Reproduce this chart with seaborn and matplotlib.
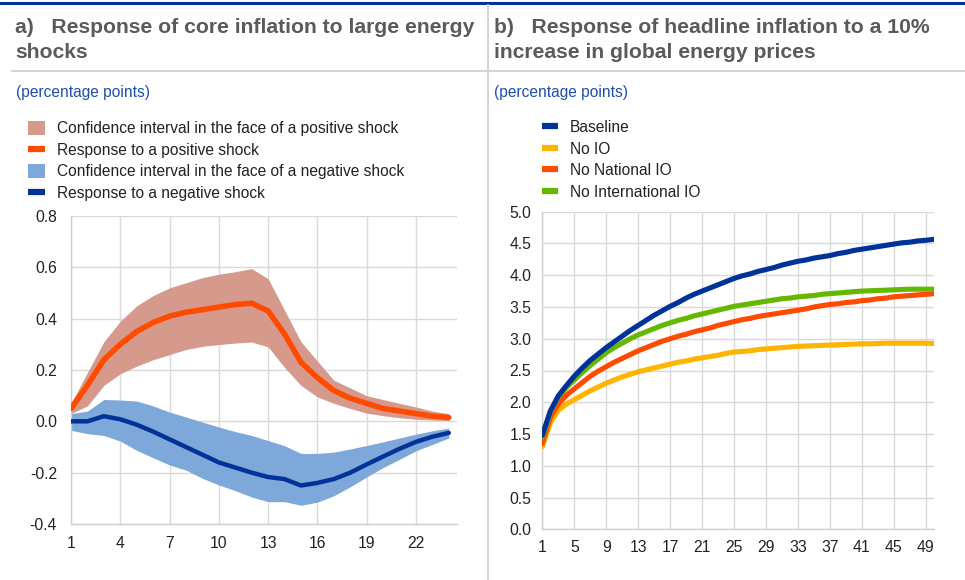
import numpy as np
import pandas as pd
import matplotlib
matplotlib.use("Agg")
import matplotlib.pyplot as plt
import seaborn as sns
from matplotlib.patches import Patch
from matplotlib.lines import Line2D

# ---------------- data ----------------
# Panel a: response of core inflation (horizon 1..24)
horizon_a = list(range(1, 25))
pos_response = [0.05, 0.14, 0.24, 0.30, 0.35, 0.385, 0.41, 0.425, 0.435, 0.445, 0.455, 0.46,
                0.43, 0.34, 0.23, 0.17, 0.12, 0.09, 0.07, 0.05, 0.04, 0.03, 0.02, 0.015]
pos_upper = [0.07, 0.19, 0.31, 0.39, 0.45, 0.49, 0.52, 0.54, 0.56, 0.573, 0.583, 0.595,
             0.556, 0.433, 0.31, 0.235, 0.16, 0.13, 0.10, 0.085, 0.07, 0.056, 0.04, 0.03]
pos_lower = [0.03, 0.06, 0.14, 0.185, 0.215, 0.24, 0.26, 0.28, 0.292, 0.299, 0.305, 0.309,
             0.29, 0.21, 0.14, 0.095, 0.07, 0.05, 0.032, 0.022, 0.014, 0.008, 0.005, 0.003]
neg_response = [0.0, 0.0, 0.02, 0.008, -0.013, -0.04, -0.07, -0.10, -0.13, -0.16, -0.18, -0.20,
                -0.217, -0.225, -0.25, -0.24, -0.225, -0.20, -0.168, -0.137, -0.107, -0.08, -0.06, -0.045]
neg_upper = [0.03, 0.04, 0.085, 0.083, 0.079, 0.06, 0.036, 0.017, -0.003, -0.022, -0.04, -0.055,
             -0.075, -0.095, -0.125, -0.125, -0.12, -0.108, -0.094, -0.08, -0.065, -0.05, -0.037, -0.026]
neg_lower = [-0.035, -0.048, -0.055, -0.077, -0.113, -0.142, -0.17, -0.19, -0.222, -0.248, -0.27, -0.295,
             -0.313, -0.313, -0.327, -0.315, -0.29, -0.255, -0.217, -0.18, -0.148, -0.115, -0.09, -0.065]
labels_a = ["Confidence interval in the face of a positive shock",
            "Response to a positive shock",
            "Confidence interval in the face of a negative shock",
            "Response to a negative shock"]
xticks_a = [1, 4, 7, 10, 13, 16, 19, 22]
yticks_a = [-0.4, -0.2, 0.0, 0.2, 0.4, 0.6, 0.8]
yticklabels_a = ["-0.4", "-0.2", "0.0", "0.2", "0.4", "0.6", "0.8"]

# Panel b: response of headline inflation (horizon 1..50)
horizon_b = list(range(1, 51))
baseline = [1.48, 1.86, 2.10, 2.26, 2.41, 2.54, 2.66, 2.76, 2.86, 2.95,
            3.04, 3.13, 3.21, 3.29, 3.37, 3.44, 3.51, 3.57, 3.64, 3.70,
            3.75, 3.80, 3.85, 3.90, 3.95, 3.99, 4.02, 4.06, 4.09, 4.12,
            4.16, 4.19, 4.22, 4.24, 4.27, 4.29, 4.31, 4.34, 4.36, 4.39,
            4.41, 4.43, 4.45, 4.47, 4.49, 4.51, 4.52, 4.54, 4.55, 4.565]
no_io = [1.30, 1.68, 1.87, 1.97, 2.04, 2.11, 2.18, 2.24, 2.30, 2.35,
         2.40, 2.44, 2.48, 2.51, 2.54, 2.57, 2.60, 2.63, 2.65, 2.68,
         2.70, 2.72, 2.74, 2.77, 2.79, 2.80, 2.81, 2.83, 2.84, 2.85,
         2.86, 2.87, 2.88, 2.885, 2.89, 2.895, 2.90, 2.905, 2.91, 2.915,
         2.92, 2.92, 2.925, 2.93, 2.93, 2.93, 2.93, 2.93, 2.93, 2.925]
no_national_io = [1.35, 1.76, 1.97, 2.11, 2.21, 2.31, 2.41, 2.49, 2.56, 2.63,
                  2.69, 2.75, 2.81, 2.86, 2.91, 2.96, 3.00, 3.04, 3.07, 3.11,
                  3.14, 3.17, 3.21, 3.24, 3.27, 3.30, 3.32, 3.35, 3.37, 3.39,
                  3.41, 3.43, 3.45, 3.47, 3.50, 3.52, 3.54, 3.55, 3.57, 3.58,
                  3.60, 3.61, 3.63, 3.64, 3.66, 3.67, 3.68, 3.69, 3.70, 3.71]
no_international_io = [1.45, 1.84, 2.08, 2.23, 2.35, 2.47, 2.58, 2.68, 2.78, 2.86,
                       2.93, 3.00, 3.06, 3.11, 3.16, 3.21, 3.25, 3.29, 3.32, 3.36,
                       3.39, 3.42, 3.45, 3.48, 3.51, 3.53, 3.55, 3.57, 3.59, 3.61,
                       3.63, 3.64, 3.66, 3.67, 3.68, 3.70, 3.71, 3.72, 3.73, 3.74,
                       3.75, 3.755, 3.76, 3.765, 3.77, 3.775, 3.78, 3.78, 3.78, 3.78]
labels_b = ["Baseline", "No IO", "No National IO", "No International IO"]
xticks_b = [1, 5, 9, 13, 17, 21, 25, 29, 33, 37, 41, 45, 49]
yticks_b = [0.0, 0.5, 1.0, 1.5, 2.0, 2.5, 3.0, 3.5, 4.0, 4.5, 5.0]

title_a_lines = ["a)   Response of core inflation to large energy", "shocks"]
title_b_lines = ["b)   Response of headline inflation to a 10%", "increase in global energy prices"]
unit_text = "(percentage points)"

# ---------------- style ----------------
sns.set_theme(style="white")
plt.rcParams["font.family"] = ["Liberation Sans", "DejaVu Sans"]

C_BLUE = "#003299"
C_ORANGE = "#FF4B00"
C_YELLOW = "#FFB400"
C_GREEN = "#65B800"
C_PINK = "#D69A8D"
C_LBLUE = "#7DA8D9"
C_GRID = "#D9D9D9"
C_TITLE = "#5A5A5A"
C_TEXT = "#222222"

W, H = 965, 580
fig = plt.figure(figsize=(W / 100, H / 100), dpi=100)

def fx(px):
    return px / W

def fy(py):
    return 1 - py / H

# frame decorations
fig.add_artist(Line2D([0, 1], [fy(3.3), fy(3.3)], color=C_BLUE, lw=2.2, transform=fig.transFigure))
fig.add_artist(Line2D([fx(12), 1], [fy(70.7), fy(70.7)], color="#D4D4D4", lw=1.5, transform=fig.transFigure))
fig.add_artist(Line2D([fx(488), fx(488)], [fy(5), 0], color="#D4D4D4", lw=1.5, transform=fig.transFigure))

for x0, lines in [(15, title_a_lines), (494, title_b_lines)]:
    for yb, line in zip([32.7, 58.3], lines):
        fig.text(fx(x0), fy(yb), line, ha="left", va="baseline", fontsize=15.2,
                 fontweight="bold", color=C_TITLE)
fig.text(fx(16), fy(93), unit_text, ha="left", va="center", fontsize=11.2, color="#1F4FA8")
fig.text(fx(494), fy(93), unit_text, ha="left", va="center", fontsize=11.2, color="#1F4FA8")

# ---------------- panel a ----------------
axA = fig.add_axes([fx(71), fy(524), fx(457) - fx(71), fy(216) - fy(524)])
df_a = pd.DataFrame({"h": horizon_a, "pos": pos_response, "neg": neg_response,
                     "pu": pos_upper, "pl": pos_lower, "nu": neg_upper, "nl": neg_lower})
axA.fill_between(df_a["h"], df_a["pl"], df_a["pu"], color=C_PINK, lw=0, zorder=2)
axA.fill_between(df_a["h"], df_a["nl"], df_a["nu"], color=C_LBLUE, lw=0, zorder=2)
sns.lineplot(data=df_a, x="h", y="pos", ax=axA, color=C_ORANGE, lw=4.0, zorder=3)
sns.lineplot(data=df_a, x="h", y="neg", ax=axA, color=C_BLUE, lw=3.2, zorder=3)
axA.set_xlim(1, 24.5)
axA.set_ylim(-0.4, 0.8)
axA.set_xticks(xticks_a)
axA.set_yticks(yticks_a)
axA.set_yticklabels(yticklabels_a)

# ---------------- panel b ----------------
axB = fig.add_axes([fx(542.3), fy(529.3), fx(934.3) - fx(542.3), fy(211.7) - fy(529.3)])
df_b = pd.DataFrame({"h": horizon_b * 4,
                     "v": baseline + no_io + no_national_io + no_international_io,
                     "s": [labels_b[0]] * 50 + [labels_b[1]] * 50 + [labels_b[2]] * 50 + [labels_b[3]] * 50})
pal_b = {labels_b[0]: C_BLUE, labels_b[1]: C_YELLOW, labels_b[2]: C_ORANGE, labels_b[3]: C_GREEN}
sns.lineplot(data=df_b, x="h", y="v", hue="s", palette=pal_b, ax=axB, lw=3.7,
             legend=False, zorder=3, hue_order=[labels_b[1], labels_b[2], labels_b[3], labels_b[0]])
axB.set_xlim(1, 50.06)
axB.set_ylim(0, 5)
axB.set_xticks(xticks_b)
axB.set_yticks(yticks_b)
axB.set_yticklabels([f"{v:.1f}" for v in yticks_b])

for ax, xpad, ypad in [(axA, 9, 10), (axB, 8, 8)]:
    ax.set_xlabel("")
    ax.set_ylabel("")
    ax.grid(True, color=C_GRID, lw=1.0, zorder=0)
    ax.set_axisbelow(True)
    for s in ["top", "right"]:
        ax.spines[s].set_visible(False)
    for s in ["left", "bottom"]:
        ax.spines[s].set_color("#CFCFCF")
        ax.spines[s].set_linewidth(1.0)
    ax.tick_params(axis="x", length=0, pad=xpad, labelsize=11.3, labelcolor=C_TEXT)
    ax.tick_params(axis="y", length=0, pad=ypad, labelsize=11.3, labelcolor=C_TEXT)
    ax.set_facecolor("white")

# ---------------- legends ----------------
handles_a = [Patch(facecolor=C_PINK, edgecolor="none"),
             Line2D([0], [0], color=C_ORANGE, lw=4.5, solid_capstyle="butt"),
             Patch(facecolor=C_LBLUE, edgecolor="none"),
             Line2D([0], [0], color=C_BLUE, lw=4.5, solid_capstyle="butt")]
fig.legend(handles_a, labels_a, loc="upper left", bbox_to_anchor=(fx(28), fy(121)),
           frameon=False, fontsize=11.2, handlelength=1.1, handleheight=1.0,
           handletextpad=0.75, labelspacing=0.4, borderpad=0, borderaxespad=0,
           labelcolor=C_TEXT)

handles_b = [Line2D([0], [0], color=c, lw=4.5, solid_capstyle="butt")
             for c in [C_BLUE, C_YELLOW, C_ORANGE, C_GREEN]]
fig.legend(handles_b, labels_b, loc="upper left", bbox_to_anchor=(fx(542), fy(120)),
           frameon=False, fontsize=11.2, handlelength=1.0, handleheight=1.0,
           handletextpad=0.8, labelspacing=0.4, borderpad=0, borderaxespad=0,
           labelcolor=C_TEXT)

fig.savefig("out.png", dpi=100, facecolor="white")
